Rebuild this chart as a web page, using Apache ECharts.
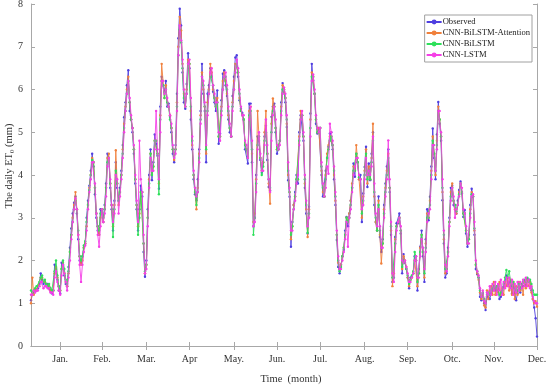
<!DOCTYPE html>
<html>
<head>
<meta charset="utf-8">
<script src="https://cdn.jsdelivr.net/npm/echarts@6/dist/echarts.min.js"></script>
<style>html,body{margin:0;padding:0;background:#fff;}#c{width:550px;height:385px;}</style>
</head>
<body>
<div id="c"></div>
<script>
const monthLabels = ['Jan.','Feb.','Mar.','Apr','May.','Jun.','Jul.','Aug.','Sep.','Otc.','Nov.','Dec.'];
const tickDays = [21,51,83,114,146,177,208,240,271,303,333,364];
const yTicks = [0,1,2,3,4,5,6,7,8];

const observed = [
1.07,1.2,1.25,1.3,1.3,1.35,1.45,1.7,1.55,1.45,
1.5,1.4,1.45,1.35,1.3,1.23,1.3,1.9,1.8,1.55,
1.3,1.23,1.95,1.9,1.65,1.45,1.4,1.85,2.3,2.75,
3.1,3.35,3.5,3.1,2.5,2.0,1.95,2.1,2.3,2.4,
3.0,3.4,3.75,4.1,4.5,4.2,3.55,3.0,2.7,2.6,
3.2,3.1,2.9,3.3,3.8,4.5,4.4,3.7,3.2,2.7,
3.4,4.3,3.7,3.4,3.7,4.1,4.7,5.35,5.7,6.1,
6.45,5.5,5.3,5.0,4.5,3.8,3.2,2.7,3.2,3.75,
3.5,2.2,1.62,2.0,3.2,4.0,4.6,3.88,4.3,4.95,
4.73,4.45,3.68,5.6,6.3,6.1,5.95,6.2,5.6,5.67,
5.36,5.0,4.5,4.3,4.7,5.9,7.2,7.89,7.5,6.4,
5.7,5.55,6.13,6.85,6.5,5.3,4.6,3.9,3.55,3.41,
3.9,4.6,5.5,6.6,5.9,5.5,4.3,5.9,6.1,6.5,
6.3,5.95,5.7,5.5,5.98,4.73,4.97,5.75,6.37,6.45,
6.1,5.85,5.3,5.0,4.9,5.85,6.3,6.75,6.8,6.3,
5.75,5.55,5.45,5.3,4.6,4.6,4.27,5.67,5.67,4.3,
2.8,3.0,4.0,4.9,4.8,4.35,4.05,4.3,4.9,5.15,
4.35,3.72,3.64,5.36,5.6,5.67,5.0,4.5,4.6,4.8,
5.7,6.15,5.95,5.7,5.12,3.88,3.49,2.32,2.9,3.3,
3.6,4.0,3.8,5.0,5.4,5.4,4.8,3.7,3.1,2.63,
3.26,5.44,6.6,6.21,5.9,5.2,4.97,5.1,5.1,4.0,
3.5,3.5,4.1,4.4,4.66,4.97,5.0,4.6,3.9,3.3,
2.48,1.85,1.7,1.9,2.1,2.25,2.7,3.02,2.8,3.1,
3.4,3.7,4.27,3.96,4.5,4.3,3.9,4.0,2.9,3.57,
4.19,4.66,3.72,4.27,3.88,4.5,5.0,3.3,2.9,2.7,
3.5,2.55,2.2,2.5,3.3,3.8,4.2,4.6,3.6,2.6,
1.5,1.6,2.55,2.87,2.87,3.1,2.63,1.7,2.15,1.95,
1.8,1.6,1.35,1.6,1.62,1.7,2.1,2.0,1.3,1.8,
2.32,2.7,2.1,1.5,2.5,3.2,2.94,3.49,4.2,5.09,
4.4,3.9,4.95,5.71,5.2,4.8,3.41,2.4,1.6,1.7,
2.3,3.0,3.7,3.75,3.3,3.3,3.1,3.4,3.65,3.85,
3.57,3.02,3.18,2.63,2.32,2.6,3.3,3.68,3.5,2.6,
1.8,1.68,1.6,1.15,1.07,1.23,1.0,0.84,1.15,1.2,
1.1,1.23,1.3,1.35,1.3,1.3,1.35,1.1,1.15,1.23,
1.39,1.5,1.65,1.45,1.5,1.39,1.23,1.39,1.23,1.07,
1.23,1.39,1.25,1.39,1.4,1.52,1.4,1.58,1.55,1.5,
1.3,1.1,0.9,0.65,0.22
];

const attention = [
1.0,1.6,1.2,1.3,1.3,1.4,1.4,1.6,1.6,1.5,
1.5,1.45,1.4,1.4,1.3,1.3,1.3,1.7,1.85,1.6,
1.4,1.3,1.8,1.95,1.7,1.5,1.4,1.7,2.2,2.6,
3.0,3.3,3.6,3.2,2.6,2.1,1.9,2.0,2.3,2.4,
2.8,3.3,3.7,4.0,4.4,4.3,3.7,3.1,2.8,2.6,
3.0,3.2,2.9,3.2,3.7,4.4,4.5,3.8,3.3,2.8,
3.3,4.58,3.8,3.3,3.6,4.0,4.6,5.2,5.6,6.0,
6.3,5.7,5.3,5.1,4.6,3.9,3.3,2.8,3.1,3.6,
3.6,2.4,1.7,1.9,3.0,3.9,4.5,4.0,4.2,4.8,
4.8,4.5,3.8,5.4,6.6,6.2,5.8,6.1,5.7,5.6,
5.4,5.1,4.6,4.35,4.6,5.7,7.0,7.7,7.38,6.6,
5.9,5.6,6.0,6.7,6.6,5.5,4.7,4.0,3.6,3.2,
3.7,4.5,5.4,6.4,6.0,5.6,4.5,5.7,6.0,6.6,
6.4,6.0,5.8,5.6,5.8,4.9,4.9,5.6,6.2,6.4,
6.2,5.9,5.4,5.1,4.9,5.7,6.2,6.6,6.6,6.4,
5.8,5.5,5.4,5.3,4.7,4.6,4.4,5.5,5.6,4.5,
2.9,3.1,3.9,5.5,4.9,4.4,4.1,4.3,5.0,5.5,
4.5,3.8,3.33,5.2,5.79,5.6,5.1,4.6,4.6,4.8,
5.6,6.1,6.0,5.8,5.2,4.0,3.6,2.5,2.8,3.3,
3.5,3.9,3.9,4.9,5.5,5.4,4.9,3.8,3.2,2.55,
3.2,5.3,6.4,6.3,5.9,5.3,5.0,5.1,5.1,4.1,
3.6,3.5,4.0,4.5,4.7,4.9,4.9,4.7,4.0,3.4,
2.6,1.95,1.8,1.9,2.1,2.3,2.6,3.0,2.9,3.1,
3.4,3.8,4.2,4.1,4.7,4.3,3.9,3.9,3.0,3.5,
4.1,4.6,3.8,4.2,3.9,4.4,5.2,3.5,2.9,2.7,
3.4,2.6,1.93,2.4,3.2,3.7,4.1,4.5,3.7,2.7,
1.4,1.7,2.5,2.8,2.9,3.0,2.7,1.8,2.1,2.0,
1.85,1.6,1.4,1.55,1.6,1.7,2.0,2.0,1.4,1.7,
2.3,2.6,2.2,1.6,2.4,3.1,3.0,3.4,4.1,4.9,
4.5,4.0,4.8,5.6,5.3,4.9,3.6,2.5,1.7,1.8,
2.2,2.9,3.6,3.8,3.4,3.2,3.1,3.3,3.6,3.8,
3.6,3.1,3.1,2.7,2.4,2.5,3.2,3.6,3.5,2.7,
1.9,1.7,1.55,1.25,1.1,1.2,0.95,0.9,1.3,1.1,
1.3,1.4,1.2,1.5,1.2,1.4,1.25,1.5,1.2,1.35,
1.2,1.5,1.4,1.6,1.3,1.55,1.2,1.5,1.1,1.4,
1.2,1.5,1.3,1.45,1.2,1.5,1.35,1.55,1.4,1.5,
1.25,1.1,1.0,1.05,0.92
];

const bilstm = [
1.3,1.25,1.3,1.35,1.4,1.4,1.5,1.6,1.65,1.5,
1.55,1.45,1.4,1.45,1.35,1.3,1.3,1.75,2.0,1.65,
1.4,1.3,1.8,2.0,1.8,1.55,1.45,1.75,2.2,2.6,
2.9,3.2,3.4,3.2,2.7,2.1,2.0,2.1,2.35,2.45,
2.9,3.3,3.65,4.0,4.35,4.3,3.7,3.1,2.8,2.7,
3.1,3.2,3.0,3.2,3.7,4.3,4.4,3.8,3.3,2.55,
3.2,4.1,3.8,3.4,3.6,4.0,4.5,5.1,5.5,5.9,
6.2,5.7,5.3,5.1,4.6,3.9,3.3,2.6,3.0,3.6,
3.6,2.4,1.75,1.9,3.0,3.8,4.5,4.0,4.2,4.8,
4.8,4.5,3.55,5.3,6.2,6.1,5.8,6.0,5.7,5.6,
5.3,5.1,4.6,4.4,4.6,5.6,6.8,7.4,7.1,6.5,
5.8,5.6,5.9,6.6,6.6,5.6,4.8,4.0,3.6,3.3,
3.6,4.4,5.3,6.3,6.1,5.6,4.6,5.5,5.9,6.3,
6.3,6.1,5.8,5.6,5.7,4.9,4.9,5.5,6.0,6.3,
6.3,6.0,5.5,5.1,4.9,5.6,6.0,6.4,6.6,6.4,
5.9,5.5,5.4,5.3,4.7,4.6,4.4,5.4,5.5,4.6,
2.6,3.0,3.8,4.7,4.9,4.4,4.0,4.2,4.8,5.0,
4.5,3.9,3.7,5.0,5.5,5.6,5.1,4.6,4.6,4.8,
5.5,6.0,6.0,5.8,5.3,4.1,3.6,2.6,2.8,3.2,
3.5,3.9,3.9,4.8,5.3,5.4,4.9,3.9,3.3,2.65,
3.1,5.1,6.3,6.3,5.9,5.3,5.0,5.0,5.1,4.2,
3.7,3.5,3.9,4.4,4.6,4.8,4.9,4.7,4.1,3.5,
2.6,2.0,1.75,1.85,2.1,2.3,2.6,3.0,2.9,3.0,
3.3,3.7,4.1,4.1,4.5,4.3,3.95,3.9,3.1,3.4,
4.0,4.5,3.9,4.1,3.9,4.3,4.8,3.6,3.0,2.7,
3.3,2.7,2.3,2.4,3.1,3.6,4.0,4.4,3.7,2.8,
1.6,1.6,2.4,2.8,2.9,3.0,2.7,1.85,2.0,1.95,
1.8,1.65,1.45,1.55,1.65,1.75,2.2,2.1,1.5,1.7,
2.2,2.6,2.2,1.7,2.3,3.0,3.0,3.3,4.0,4.8,
4.5,4.1,4.7,5.5,5.3,4.9,3.7,2.6,1.8,1.8,
2.2,2.9,3.5,3.7,3.4,3.3,3.15,3.3,3.55,3.8,
3.6,3.1,3.1,2.7,2.4,2.5,3.1,3.55,3.5,2.75,
1.9,1.75,1.6,1.3,1.15,1.25,1.1,1.0,1.2,1.25,
1.2,1.3,1.35,1.4,1.35,1.4,1.4,1.2,1.25,1.3,
1.45,1.6,1.78,1.6,1.75,1.5,1.4,1.5,1.35,1.3,
1.3,1.45,1.35,1.45,1.5,1.55,1.5,1.6,1.5,1.55,
1.45,1.3,1.2,1.2,1.2
];

const lstm = [
1.2,1.2,1.3,1.25,1.3,1.3,1.4,1.5,1.5,1.35,
1.4,1.4,1.35,1.35,1.25,1.25,1.2,1.6,1.75,1.5,
1.3,1.2,1.65,1.9,1.7,1.5,1.3,1.6,2.0,2.5,
2.9,3.2,3.45,3.2,2.6,1.9,1.5,1.9,2.2,2.35,
2.7,3.2,3.6,3.9,4.3,4.3,3.8,3.1,2.6,2.32,
2.8,3.2,2.9,3.1,3.5,4.2,4.4,3.9,3.3,2.9,
3.1,4.0,3.9,3.1,3.5,3.9,4.4,5.0,5.5,5.9,
6.2,5.8,5.4,5.1,4.7,4.0,3.4,2.9,4.8,3.9,
3.6,2.6,1.7,1.8,2.8,3.7,4.4,4.1,4.1,4.6,
5.5,4.6,3.9,5.0,6.2,6.2,5.9,6.0,5.8,5.6,
5.4,5.2,4.7,4.4,4.5,5.5,6.8,7.5,7.15,6.7,
6.0,5.6,5.9,6.6,6.7,5.8,4.9,4.1,3.7,3.5,
3.6,4.3,5.2,6.3,6.2,5.7,4.7,5.4,5.9,6.4,
6.5,6.1,5.9,5.7,5.7,5.0,4.8,5.4,6.0,6.3,
6.4,6.1,5.6,5.2,4.9,5.5,6.0,6.4,6.7,6.5,
6.0,5.6,5.4,5.4,4.8,4.7,4.4,5.3,5.6,4.8,
2.8,2.9,3.6,4.6,5.0,4.5,4.1,4.1,4.7,5.3,
4.7,3.9,3.6,4.8,5.4,5.6,5.3,4.7,4.6,4.7,
5.4,5.9,6.05,5.9,5.4,4.3,3.7,2.7,2.7,3.2,
3.4,3.8,4.0,4.7,5.3,5.5,5.0,4.0,3.4,2.8,
3.0,4.9,6.2,6.35,6.0,5.4,5.1,5.0,5.1,4.3,
3.8,3.5,3.7,4.2,4.03,5.2,5.0,4.8,4.2,3.6,
2.7,2.1,1.8,1.8,2.0,2.2,2.5,2.9,2.32,3.0,
3.2,3.6,4.0,4.2,4.4,4.4,4.0,3.9,3.2,3.3,
3.9,4.4,4.0,4.1,4.0,4.2,4.9,3.8,3.1,2.8,
3.2,2.8,2.3,2.3,3.0,3.5,3.9,4.81,3.9,2.9,
1.7,1.5,2.2,2.7,2.9,3.0,2.8,2.0,1.95,2.0,
1.85,1.7,1.5,1.5,1.6,1.7,2.0,2.1,1.6,1.6,
2.1,2.5,2.3,1.8,2.2,2.9,3.1,3.2,3.9,4.7,
4.7,4.1,4.6,5.5,5.5,5.0,3.9,2.7,1.9,1.75,
2.1,2.8,3.4,3.7,3.5,3.0,3.2,3.3,3.5,3.8,
3.7,3.2,3.1,2.8,2.4,2.4,3.0,3.5,3.55,2.9,
2.0,1.75,1.65,1.35,1.15,1.3,1.05,1.0,1.25,1.2,
1.4,1.2,1.45,1.3,1.5,1.2,1.45,1.3,1.55,1.2,
1.5,1.35,1.6,1.4,1.6,1.35,1.55,1.2,1.45,1.25,
1.5,1.3,1.5,1.35,1.55,1.4,1.6,1.4,1.55,1.35,
1.4,1.15,1.05,1.0,1.0
];

const days = observed.map((_, i) => String(i + 1));
const serif = 'Liberation Serif, Times New Roman, serif';
const tickSet = new Set(tickDays);

const chart = echarts.init(document.getElementById('c'), null, {renderer: 'canvas'});

function mkSeries(name, data, color, z) {
  return {
    name: name, type: 'line', data: data, z: z,
    showAllSymbol: true, symbol: 'circle', symbolSize: 2.4,
    lineStyle: {width: 0.9, color: color},
    itemStyle: {color: color},
    emphasis: {disabled: true}
  };
}

const axisLineStyle = {lineStyle: {color: '#a8a8a8', width: 1}};

chart.setOption({
  animation: false,
  backgroundColor: '#fff',
  grid: {left: 31, right: 13, top: 4, bottom: 39, containLabel: false, outerBoundsMode: 'none'},
  graphic: [{
    type: 'text', x: 9, y: 166, rotation: Math.PI / 2, z: 10,
    style: {
      text: 'The daily ET{s|0} (mm)', align: 'center', verticalAlign: 'middle',
      fontFamily: serif, fontSize: 10.5, fill: '#333',
      rich: {s: {fontFamily: serif, fontSize: 7, fill: '#333', padding: [6, 0, 0, 0]}}
    }
  }],
  legend: {
    orient: 'vertical', right: 18, top: 15,
    backgroundColor: '#fff', borderColor: '#a0a0a0', borderWidth: 1,
    padding: [2, 2, 2, 1], itemGap: 1, itemWidth: 15, itemHeight: 6,
    textStyle: {fontFamily: serif, fontSize: 8.6, color: '#222', padding: [0, 0, 0, -4], lineHeight: 10},
    data: ['Observed', 'CNN-BiLSTM-Attention', 'CNN-BiLSTM', 'CNN-LSTM']
  },
  xAxis: [{
    type: 'category', data: days, boundaryGap: false,
    axisLine: axisLineStyle,
    axisTick: {inside: true, length: 4, interval: (i) => tickSet.has(i), lineStyle: {color: '#a8a8a8'}},
    axisLabel: {
      interval: (i) => tickSet.has(i),
      formatter: (v, i) => monthLabels[tickDays.indexOf(i)] || '',
      fontFamily: serif, fontSize: 10, color: '#333', margin: 8
    },
    name: 'Time  (month)', nameLocation: 'middle', nameGap: 28, nameMoveOverlap: false,
    nameTextStyle: {fontFamily: serif, fontSize: 10.5, color: '#333', padding: [0, 0, 0, 14]},
    splitLine: {show: false}
  }, {
    type: 'category', data: days, boundaryGap: false, position: 'top',
    axisLine: axisLineStyle,
    axisTick: {inside: true, length: 4, interval: (i) => tickSet.has(i), lineStyle: {color: '#a8a8a8'}},
    axisLabel: {show: false}, splitLine: {show: false}
  }],
  yAxis: [{
    type: 'value', min: 0, max: 8, interval: 1,
    axisLine: {show: true, lineStyle: {color: '#a8a8a8'}},
    axisTick: {show: true, inside: true, length: 4, lineStyle: {color: '#a8a8a8'}},
    axisLabel: {fontFamily: serif, fontSize: 10, color: '#333', margin: 8,
      formatter: (v) => yTicks.includes(v) ? String(v) : ''},
    splitLine: {show: false}
  }, {
    type: 'value', min: 0, max: 8, interval: 1, position: 'right',
    axisLine: {show: true, lineStyle: {color: '#a8a8a8'}},
    axisTick: {show: true, inside: true, length: 4, lineStyle: {color: '#a8a8a8'}},
    axisLabel: {show: false}, splitLine: {show: false}
  }],
  series: [
    mkSeries('Observed', observed, '#4f3fe0', 2),
    mkSeries('CNN-BiLSTM-Attention', attention, '#f0803c', 3),
    mkSeries('CNN-BiLSTM', bilstm, '#2ee05a', 4),
    mkSeries('CNN-LSTM', lstm, '#f53fe6', 5)
  ]
});
</script>
</body>
</html>
